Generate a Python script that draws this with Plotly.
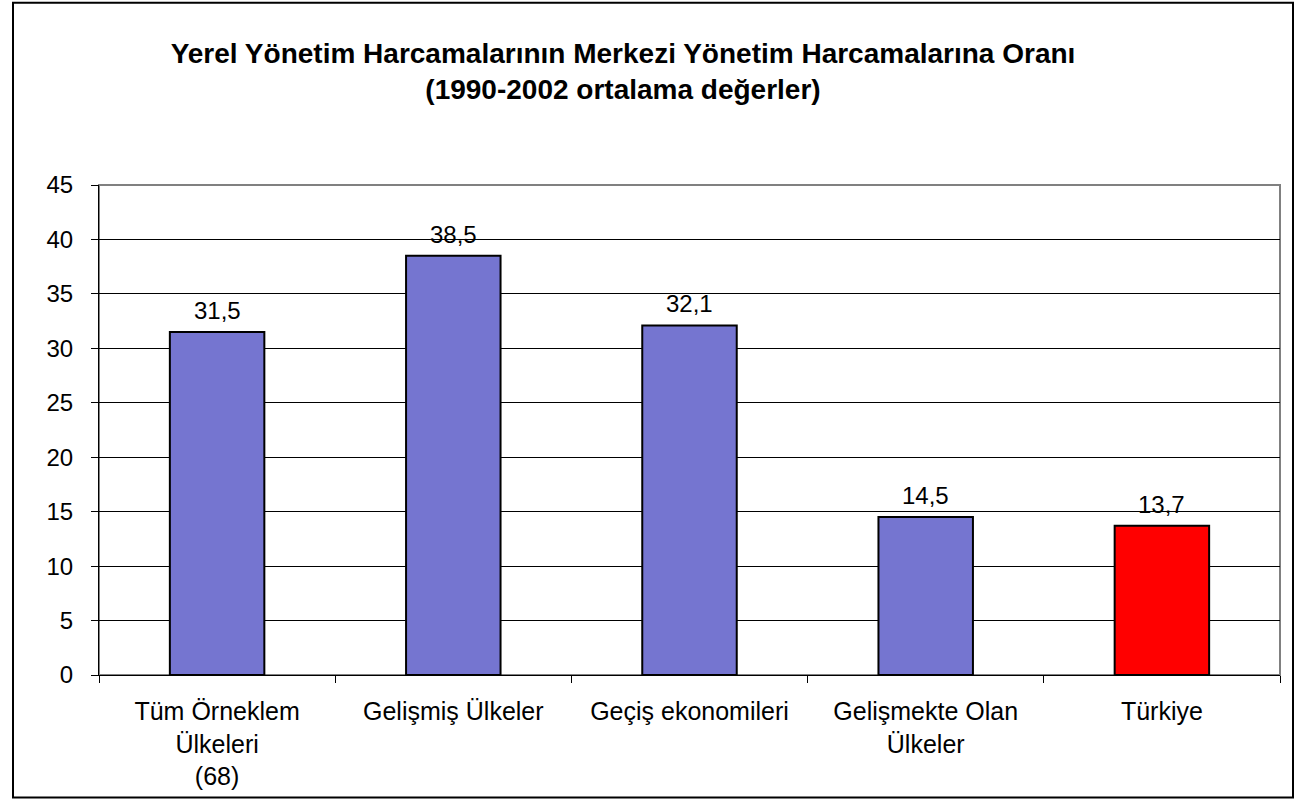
import plotly.graph_objects as go

categories = ["Tüm Örneklem<br>Ülkeleri<br>(68)", "Gelişmiş Ülkeler", "Geçiş ekonomileri",
              "Gelişmekte Olan<br>Ülkeler", "Türkiye"]
values = [31.5, 38.5, 32.1, 14.5, 13.7]
bar_colors = ["#7575D0", "#7575D0", "#7575D0", "#7575D0", "#FF0000"]
y_ticks = [0, 5, 10, 15, 20, 25, 30, 35, 40, 45]

font_family = "Liberation Sans, Arial, sans-serif"

fig = go.Figure()
fig.add_trace(go.Bar(
    x=categories, y=values,
    marker=dict(color=bar_colors, line=dict(color="black", width=2)),
    width=0.4,
    hoverinfo="x+y",
))

for c, v in zip(categories, values):
    fig.add_annotation(x=c, y=v, text=f"{v:.1f}".replace(".", ","), showarrow=False,
                       yanchor="bottom", yshift=6,
                       font=dict(size=24, color="black", family=font_family))

fig.update_layout(
    width=1295, height=802,
    margin=dict(l=99, r=15, t=185, b=125),
    paper_bgcolor="white", plot_bgcolor="white",
    showlegend=False,
    font=dict(family=font_family, color="black"),
    title=dict(
        text="<b>Yerel Yönetim Harcamalarının Merkezi Yönetim Harcamalarına Oranı<br>(1990-2002 ortalama değerler)</b>",
        xref="container", x=623 / 1295, xanchor="center",
        yref="container", y=1 - 63 / 802, yanchor="middle",
        font=dict(size=28, color="black", family=font_family),
    ),
    bargap=0.6,
)

fig.update_yaxes(
    range=[0, 45], tickvals=y_ticks, showgrid=True, gridcolor="black", gridwidth=1,
    showline=True, linecolor="black", linewidth=1,
    ticks="outside", ticklen=7, tickcolor="black",
    tickfont=dict(size=24, color="black"), ticklabelstandoff=13,
    zeroline=False, fixedrange=True,
)
fig.update_xaxes(
    showline=True, linecolor="black", linewidth=1,
    ticks="outside", tickson="boundaries", ticklen=7, tickcolor="black",
    tickfont=dict(size=25, color="black"), ticklabelstandoff=14,
    fixedrange=True,
)

# gray plot-area frame (top/right)
fig.add_shape(type="rect", xref="paper", yref="paper", x0=0, x1=1, y0=0, y1=1,
              line=dict(color="#808080", width=2), layer="below")
# outer chart border
fig.add_shape(type="rect", xref="paper", yref="paper",
              x0=(13 - 99) / 1181, x1=(1293 - 99) / 1181,
              y0=(677 - 800) / 492, y1=(677 - 2) / 492,
              line=dict(color="black", width=2))

fig.write_html("out.html", config={"displayModeBar": False},
               post_script="document.body.style.margin='0';")
